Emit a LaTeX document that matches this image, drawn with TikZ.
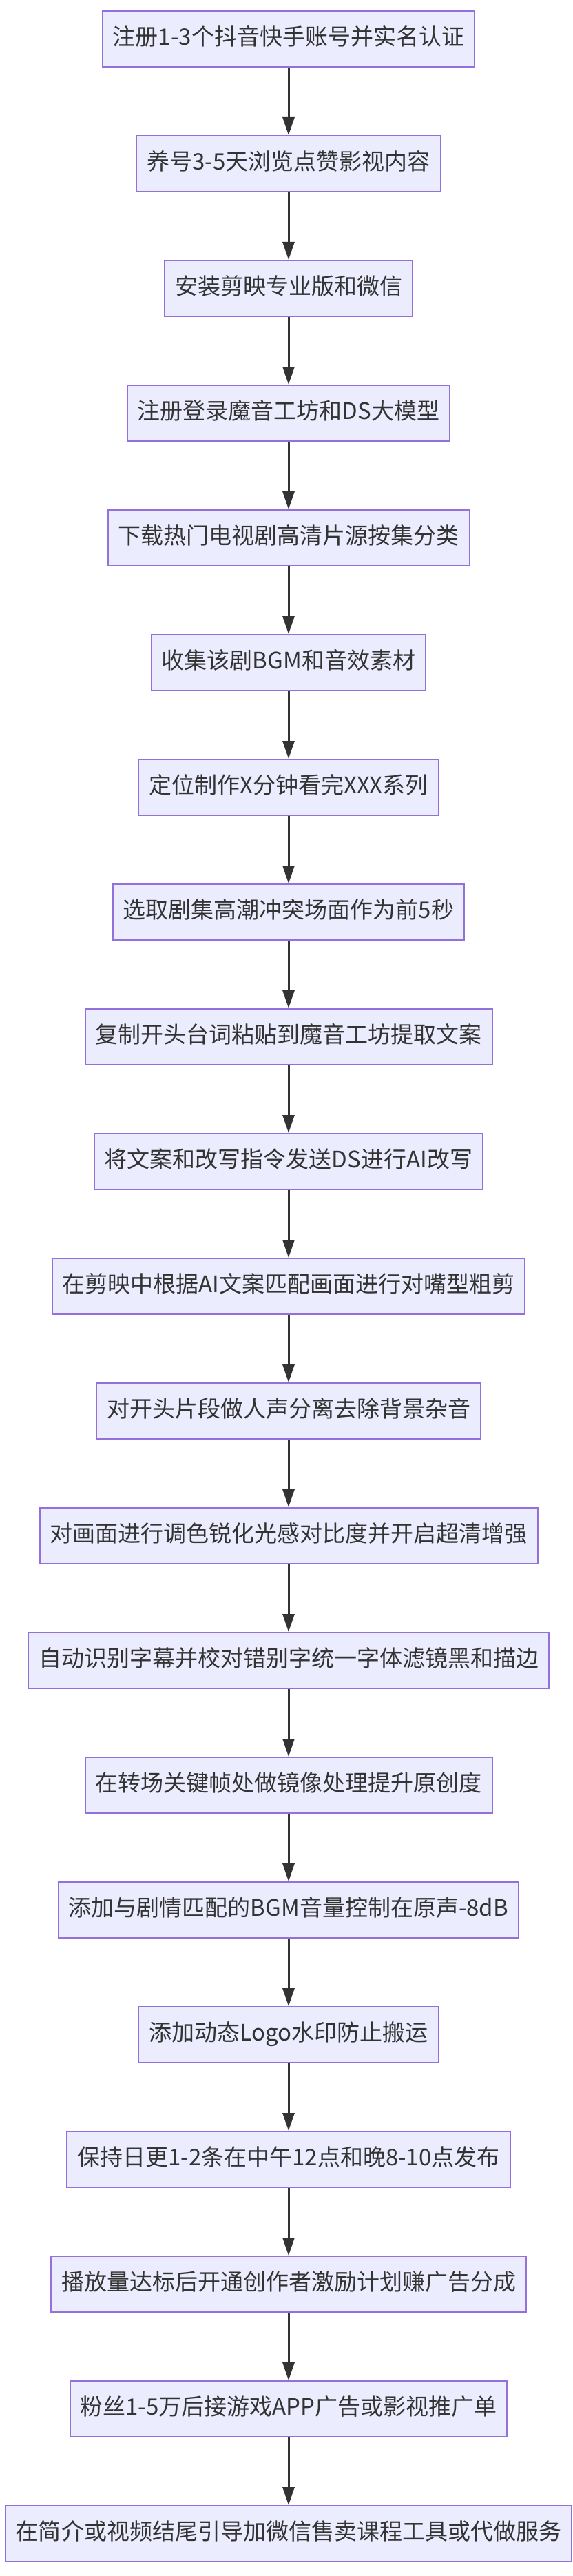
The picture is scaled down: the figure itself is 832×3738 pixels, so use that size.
\documentclass[tikz,border=0pt]{standalone}
\usepackage{fontspec}
\setmainfont{Noto Sans CJK SC}
\usetikzlibrary{arrows.meta}
\definecolor{boxfill}{HTML}{ECECFF}
\definecolor{boxline}{HTML}{9370DB}
\definecolor{ink}{HTML}{333333}
\begin{document}
\begin{tikzpicture}[x=1pt,y=-1pt,
  stepbox/.style={draw=boxline,fill=boxfill,line width=2pt,inner xsep=15pt,inner ysep=0pt,
    minimum height=81pt,text=ink,font=\fontsize{33}{36}\selectfont,anchor=center},
  flow/.style={draw=ink,line width=3pt,-{Triangle[length=26pt,width=17pt]}}]
\useasboundingbox (0,0) rectangle (832,3738);
\fill[white] (0,0) rectangle (832,3738);
\foreach \t [count=\i] in {注册1-3个抖音快手账号并实名认证,养号3-5天浏览点赞影视内容,安装剪映专业版和微信,注册登录魔音工坊和DS大模型,下载热门电视剧高清片源按集分类,收集该剧BGM和音效素材,定位制作X分钟看完XXX系列,选取剧集高潮冲突场面作为前5秒,复制开头台词粘贴到魔音工坊提取文案,将文案和改写指令发送DS进行AI改写,在剪映中根据AI文案匹配画面进行对嘴型粗剪,对开头片段做人声分离去除背景杂音,对画面进行调色锐化光感对比度并开启超清增强,自动识别字幕并校对错别字统一字体滤镜黑和描边,在转场关键帧处做镜像处理提升原创度,添加与剧情匹配的BGM音量控制在原声-8dB,添加动态Logo水印防止搬运,保持日更1-2条在中午12点和晚8-10点发布,播放量达标后开通创作者激励计划赚广告分成,粉丝1-5万后接游戏APP广告或影视推广单,在简介或视频结尾引导加微信售卖课程工具或代做服务}
  {\node[stepbox] (n\i) at (419,{56.5+181*(\i-1)}) {\strut\t};}
\foreach \i [evaluate=\i as \j using int(\i+1)] in {1,...,20}
  \draw[flow] (n\i) -- (n\j);
\end{tikzpicture}
\end{document}
